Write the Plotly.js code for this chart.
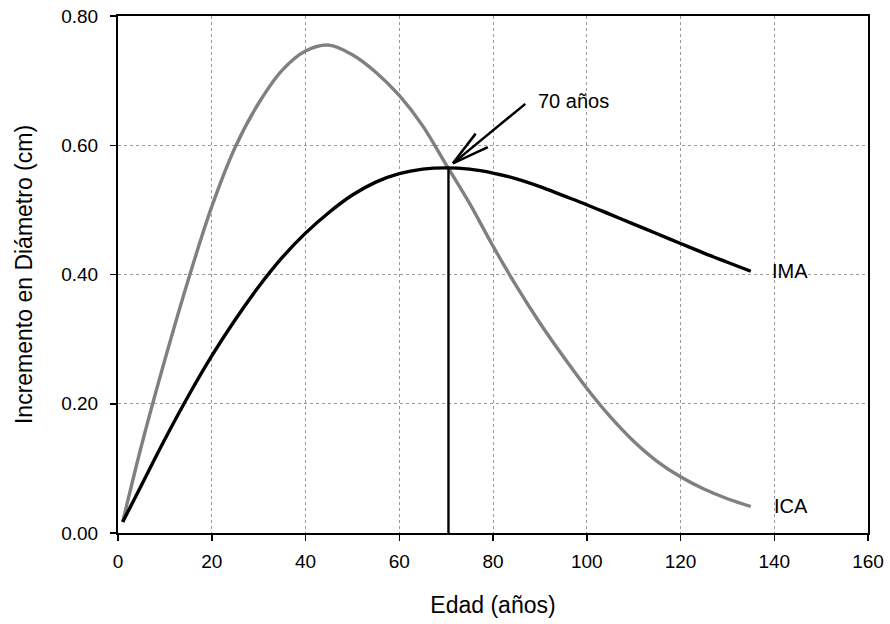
<!DOCTYPE html>
<html>
<head>
<meta charset="utf-8">
<script src="https://cdn.plot.ly/plotly-3.0.1.min.js"></script>
<style>html,body{margin:0;padding:0;background:#fff;}#chart{width:890px;height:624px;}</style>
</head>
<body>
<div id="chart"></div>
<script>
// Age (years)
const edad = [1, 5, 10, 15, 20, 25, 30, 35, 40, 45, 50, 55, 60, 65, 70, 75, 80, 85, 90, 95, 100, 105, 110, 115, 120, 125, 130, 135];
// ICA - current annual increment (cm)
const ica = [0.017, 0.135, 0.268, 0.392, 0.505, 0.597, 0.665, 0.716, 0.746, 0.755, 0.740, 0.713, 0.677, 0.630, 0.570, 0.510, 0.444, 0.382, 0.325, 0.273, 0.224, 0.180, 0.142, 0.111, 0.087, 0.068, 0.053, 0.041];
// IMA - mean annual increment (cm)
const ima = [0.017, 0.074, 0.145, 0.212, 0.274, 0.330, 0.381, 0.426, 0.464, 0.496, 0.523, 0.543, 0.556, 0.563, 0.565, 0.563, 0.557, 0.548, 0.536, 0.522, 0.508, 0.493, 0.478, 0.463, 0.448, 0.433, 0.419, 0.405];
// Vertical marker at the intersection (age 70)
const marcaX = [70.5, 70.5];
const marcaY = [0, 0.563];
// Arrow pointing to intersection: tail, tip, barbs
const flechaCola = [86.9, 0.664];
const flechaPunta = [71.45, 0.572];
const flechaBarba1 = [76.3, 0.618];
const flechaBarba2 = [78.9, 0.597];
// Labels
const etiquetas = [
  {text: '70 años', x: 89.1, y: 0.669},
  {text: 'IMA', x: 139.1, y: 0.405},
  {text: 'ICA', x: 139.6, y: 0.042}
];
const xTicks = [0, 20, 40, 60, 80, 100, 120, 140, 160];
const yTicks = [0, 0.2, 0.4, 0.6, 0.8];

const FONT = '"Liberation Sans", Arial, sans-serif';

const traces = [
  {x: edad, y: ica, mode: 'lines', line: {color: '#808080', width: 3.4, shape: 'spline', smoothing: 1}, hoverinfo: 'skip'},
  {x: edad, y: ima, mode: 'lines', line: {color: '#000000', width: 3.4, shape: 'spline', smoothing: 1}, hoverinfo: 'skip'},
  {x: marcaX, y: marcaY, mode: 'lines', line: {color: '#000000', width: 2.4}, hoverinfo: 'skip'}
];

function seg(a, b) {
  return {type: 'line', xref: 'x', yref: 'y', x0: a[0], y0: a[1], x1: b[0], y1: b[1], line: {color: '#000', width: 2.5}};
}

const layout = {
  width: 890, height: 624,
  margin: {l: 118, r: 22, t: 16, b: 91},
  paper_bgcolor: '#fff', plot_bgcolor: '#fff',
  showlegend: false,
  font: {family: FONT, color: '#000', size: 19},
  xaxis: {
    range: [0, 160], tickvals: xTicks, ticktext: xTicks.map(String),
    showline: true, linecolor: '#000', linewidth: 2, mirror: true,
    ticks: 'outside', ticklen: 6, tickwidth: 1.5, tickcolor: '#000',
    showgrid: true, gridcolor: '#999', griddash: 'dot', gridwidth: 1,
    zeroline: false, ticklabelstandoff: 4,
    tickfont: {family: FONT, size: 19, color: '#000'},
    title: {text: 'Edad (años)', font: {family: FONT, size: 23, color: '#000'}, standoff: 26}
  },
  yaxis: {
    range: [0, 0.8], tickvals: yTicks, ticktext: yTicks.map(v => v.toFixed(2)),
    showline: true, linecolor: '#000', linewidth: 2, mirror: true,
    ticks: 'outside', ticklen: 6, tickwidth: 1.5, tickcolor: '#000',
    showgrid: true, gridcolor: '#999', griddash: 'dot', gridwidth: 1,
    zeroline: false, ticklabelstandoff: 8,
    tickfont: {family: FONT, size: 19, color: '#000'},
    title: {text: 'Incremento en Diámetro (cm)', font: {family: FONT, size: 23, color: '#000'}, standoff: 22}
  },
  shapes: [seg(flechaCola, flechaPunta), seg(flechaPunta, flechaBarba1), seg(flechaPunta, flechaBarba2)],
  annotations: etiquetas.map(e => ({
    text: e.text, x: e.x, y: e.y, xref: 'x', yref: 'y', showarrow: false,
    xanchor: 'left', yanchor: 'middle', font: {family: FONT, size: 20, color: '#000'}
  }))
};

Plotly.newPlot('chart', traces, layout, {displayModeBar: false, staticPlot: true});
</script>
</body>
</html>
